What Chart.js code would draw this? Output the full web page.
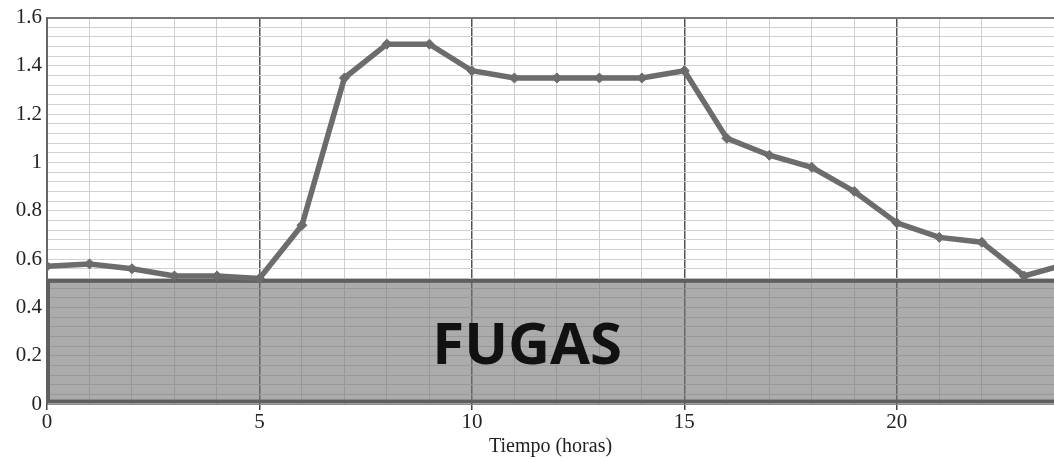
<!DOCTYPE html>
<html>
<head>
<meta charset="utf-8">
<script src="https://cdn.jsdelivr.net/npm/chart.js@4.4.1/dist/chart.umd.min.js"></script>
<style>
html,body{margin:0;padding:0;background:#fff;}
#wrap{position:relative;width:1054px;height:459px;}
</style>
</head>
<body>
<div id="wrap"><canvas id="c"></canvas></div>
<script>
// ---- data ----
const hours = [0,1,2,3,4,5,6,7,8,9,10,11,12,13,14,15,16,17,18,19,20,21,22,23,24];
const flow  = [0.57,0.58,0.56,0.53,0.53,0.52,0.74,1.35,1.49,1.49,1.38,1.35,1.35,1.35,1.35,1.38,1.10,1.03,0.98,0.88,0.75,0.69,0.67,0.53,0.58];
const leakBand = [0.01, 0.51];      // y range of the "FUGAS" block
const leakLabel = 'FUGAS';
const leakLabelPos = [11.3, 0.235]; // x (hours), y (value)
const xTickLabels = [0,5,10,15,20];
const yTickLabels = [0,0.2,0.4,0.6,0.8,1,1.2,1.4,1.6];
const xTitle = 'Tiempo (horas)';

const points = hours.map((h,i)=>({x:h,y:flow[i]}));
const isMajorX = v => xTickLabels.includes(Math.round(v*1000)/1000);
const isLabelY = v => yTickLabels.some(t=>Math.abs(t-v)<1e-6);

const leakPlugin = {
  id:'leak',
  beforeDatasetsDraw(chart){
    const {ctx, scales:{x,y}} = chart;
    const x0 = x.getPixelForValue(x.min), x1 = x.getPixelForValue(x.max);
    const yTop = y.getPixelForValue(leakBand[1]), yBot = y.getPixelForValue(leakBand[0]);
    ctx.save();
    ctx.fillStyle = 'rgba(115,115,115,0.6)';
    ctx.fillRect(x0, yTop, x1-x0+4, yBot-yTop);
    ctx.strokeStyle = '#5f5f5f';
    ctx.lineWidth = 4;
    ctx.strokeRect(x0+1, yTop, x1-x0+6, yBot-yTop);
    ctx.fillStyle = '#111';
    ctx.font = 'bold 58px "Open Sans", sans-serif';
    ctx.textAlign = 'center';
    ctx.textBaseline = 'middle';
    ctx.fillText(leakLabel, x.getPixelForValue(leakLabelPos[0]), y.getPixelForValue(leakLabelPos[1]));
    ctx.restore();
  }
};

new Chart(document.getElementById('c'), {
  type:'line',
  data:{ datasets:[{
    data: points,
    borderColor:'#6c6c6c',
    backgroundColor:'#6c6c6c',
    borderWidth:5.5,
    pointStyle:'rectRot',
    pointRadius:5,
    pointBorderWidth:1,
    tension:0
  }]},
  options:{
    responsive:true,
    maintainAspectRatio:false,
    animation:false,
    layout:{autoPadding:false, padding:{top:15,right:0,left:0,bottom:0}},
    plugins:{legend:{display:false}, tooltip:{enabled:false}},
    scales:{
      x:{
        type:'linear', min:0, max:23.7,
        afterFit(s){ s.height = 55; s.paddingRight = 0; s.paddingLeft = 0; },
        border:{display:true,color:'#8a8a8a',width:1},
        grid:{
          color: c => (c.tick && c.tick.value>23.5) ? 'rgba(0,0,0,0)' : (isMajorX(c.tick.value) ? '#555' : '#cdcdcd'),
          lineWidth: c => isMajorX(c.tick.value) ? 1.5 : 1,
          tickLength:6,
          tickColor: c => isMajorX(c.tick.value) ? '#444' : 'rgba(0,0,0,0)'
        },
        ticks:{
          stepSize:1, autoSkip:false, maxRotation:0, padding:0,
          color:'#222',
          font:{family:'"Liberation Serif", serif', size:21},
          callback: v => isMajorX(v) ? String(v) : ''
        },
        title:{display:true,text:xTitle,color:'#222',
          font:{family:'"Liberation Serif", serif', size:20}, padding:{top:-8,bottom:0}}
      },
      y:{
        type:'linear', min:0, max:1.6,
        afterFit(s){ s.width = 47; },
        border:{display:true,color:'#666',width:2},
        grid:{
          color: c => (Math.abs(c.tick.value-1.6)<1e-6) ? '#777' : '#d0d0d0',
          lineWidth: c => (Math.abs(c.tick.value-1.6)<1e-6) ? 2 : 1,
          drawTicks:false
        },
        ticks:{
          stepSize:0.04, autoSkip:false, padding:5,
          color:'#222',
          font:{family:'"Liberation Serif", serif', size:21},
          callback: v => isLabelY(v) ? String(Math.round(v*10)/10) : ''
        }
      }
    }
  },
  plugins:[leakPlugin]
});
</script>
</body>
</html>
